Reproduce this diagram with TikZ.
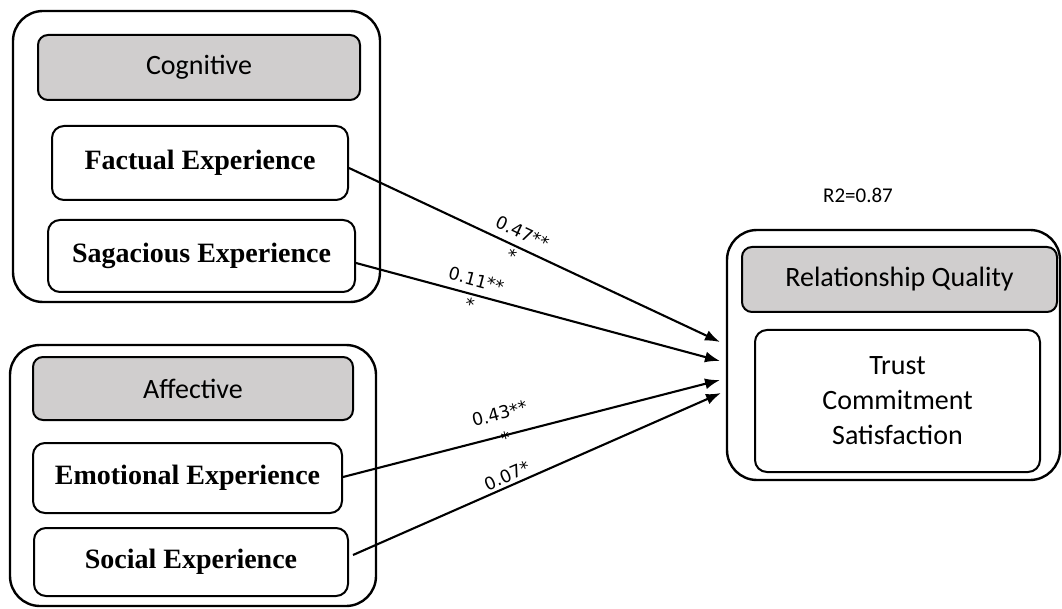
\documentclass[tikz,border=0pt]{standalone}
\usepackage{fontspec}
\setmainfont{Liberation Serif}
\newfontfamily\calibfont{Carlito}
\newfontfamily\coeffont{DejaVu Sans}
\usetikzlibrary{arrows.meta}
\definecolor{headgray}{RGB}{208,206,206}

\tikzset{
  groupbox/.style={draw, line width=2.4pt, rounded corners=30pt, inner sep=0pt},
  headbox/.style={draw, line width=2pt, rounded corners=10pt, fill=headgray, inner sep=0pt,
    font=\calibfont\fontsize{28}{34}\selectfont},
  itembox/.style={draw, line width=2pt, rounded corners=12pt, inner sep=0pt,
    font=\bfseries\fontsize{28}{32}\selectfont},
  effect/.style={-{Latex[length=15pt,width=11pt]}, line width=2.1pt},
  coef/.style={font=\coeffont\fontsize{17.5}{25.5}\selectfont, sloped, inner sep=0pt, align=center}
}

\begin{document}
\begin{tikzpicture}[x=1pt,y=-1pt]
  \useasboundingbox (0,0) rectangle (1062,609);

  % cognitive block
  \node[groupbox, minimum width=367pt, minimum height=291pt] (cog) at (196.5,156.5) {};
  \node[headbox, minimum width=322pt, minimum height=65pt] (coghead) at (199,67.5) {Cognitive};
  \node[itembox, minimum width=296pt, minimum height=74pt] (factual) at (200,163) {Factual Experience};
  \node[itembox, minimum width=307pt, minimum height=72pt] (sagacious) at (201.5,256) {Sagacious Experience};

  % affective block
  \node[groupbox, minimum width=366pt, minimum height=261pt] (aff) at (193,475.5) {};
  \node[headbox, minimum width=320pt, minimum height=63pt] (affhead) at (193,388.5) {Affective};
  \node[itembox, minimum width=309pt, minimum height=70pt] (emotional) at (187.5,478) {Emotional Experience};
  \node[itembox, minimum width=314pt, minimum height=68pt] (social) at (191,562) {Social Experience};

  % outcome
  \node[groupbox, minimum width=333pt, minimum height=250pt] (rq) at (893.5,355) {};
  \node[headbox, minimum width=315pt, minimum height=65pt] (rqhead) at (899.5,279.5) {Relationship Quality};
  \node[itembox, font=\calibfont\fontsize{28}{35}\selectfont, align=center,
    minimum width=285pt, minimum height=142pt] (rqdims) at (897.5,401) {Trust\\Commitment\\Satisfaction};
  \node[font=\calibfont\fontsize{21}{24}\selectfont] (rsq) at (858,195) {R2=0.87};

  \coordinate (t1) at (720,342);
  \coordinate (t2) at (720,361);
  \coordinate (t3) at (720,380);
  \coordinate (t4) at (721,393);

  \draw[effect] ([yshift=-5pt]factual.east) -- node[coef, pos=0.45, yshift=2.6pt] {0.47**\\*} (t1);
  \draw[effect] ([yshift=-7pt]sagacious.east) -- node[coef, pos=0.32, yshift=2.2pt] {0.11**\\*} (t2);
  \draw[effect] ([yshift=1pt]emotional.east) -- node[coef, pos=0.43, yshift=9.8pt] {0.43**\\*} (t3);
  \draw[effect] ([xshift=4pt,yshift=7pt]social.east) -- node[coef, pos=0.43, yshift=10.5pt] {0.07*} (t4);
\end{tikzpicture}
\end{document}
